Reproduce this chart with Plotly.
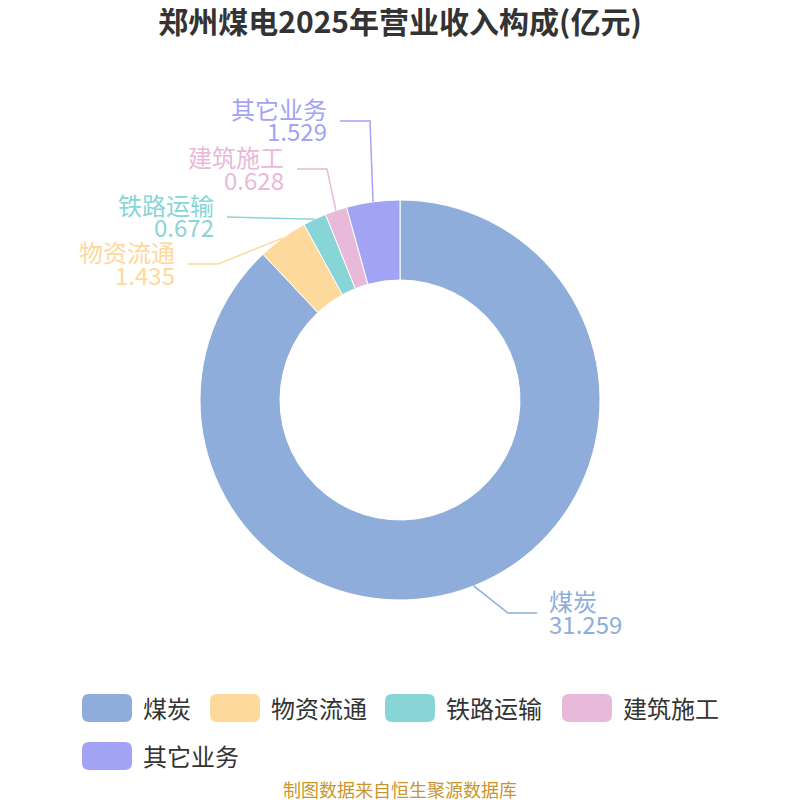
import math
import plotly.graph_objects as go

# ---- data ----
categories = ["煤炭", "物资流通", "铁路运输", "建筑施工", "其它业务"]
values = [31.259, 1.435, 0.672, 0.628, 1.529]
value_labels = ["31.259", "1.435", "0.672", "0.628", "1.529"]

# ---- styles ----
colors = ["#8eaddb", "#fdd99b", "#88d5d8", "#e8b9d8", "#a3a3f5"]
OFF = 8            # page offset of the plot div (body margin)
W = H = 800 - OFF
CX, CY, R = 400, 400, 200
FONT = "Noto Sans CJK SC"

# label layout (screen pixel positions of the leader-line bend, end, and side)
label_layout = [
    dict(bend=(508, 613), end=(537, 613), side="right"),
    dict(bend=(218, 264), end=(188, 264), side="left"),
    dict(bend=(227, 217), end=(227, 217), side="left"),
    dict(bend=(327, 169), end=(297, 169), side="left"),
    dict(bend=(370, 121), end=(340, 121), side="left"),
]


def px(x):
    return (x - OFF) / W


def py(y):
    return 1 - (y - OFF) / H


fig = go.Figure()
fig.add_trace(go.Pie(
    labels=categories,
    values=values,
    hole=0.6,
    sort=False,
    direction="clockwise",
    rotation=0,
    marker=dict(colors=colors, line=dict(color="white", width=1)),
    textinfo="none",
    hoverinfo="label+value",
    domain=dict(x=[px(CX - R), px(CX + R)], y=[py(CY + R), py(CY - R)]),
    showlegend=False,
))

shapes = []
annotations = []

total = sum(values)
cum = 0.0
for i, (cat, v) in enumerate(zip(categories, values)):
    mid = (cum + v / 2) / total * 2 * math.pi
    cum += v
    sx = CX + R * math.sin(mid)
    sy = CY - R * math.cos(mid)
    lay = label_layout[i]
    bx, by = lay["bend"]
    ex, ey = lay["end"]
    path = f"M {px(sx)} {py(sy)} L {px(bx)} {py(by)} L {px(ex)} {py(ey)}"
    shapes.append(dict(type="path", xref="paper", yref="paper", path=path,
                       line=dict(color=colors[i], width=1.5)))
    if lay["side"] == "right":
        tx, anchor = ex + 10, "left"
    else:
        tx, anchor = ex - 11, "right"
    annotations.append(dict(x=px(tx), y=py(ey - 13), xref="paper", yref="paper",
                            text=cat, showarrow=False, xanchor=anchor, yanchor="middle",
                            font=dict(family=FONT, size=24, color=colors[i])))
    annotations.append(dict(x=px(tx), y=py(ey + 10), xref="paper", yref="paper",
                            text=value_labels[i], showarrow=False, xanchor=anchor, yanchor="middle",
                            font=dict(family=FONT, size=24, color=colors[i])))

# ---- custom legend ----
legend_pos = [(82, 694), (210, 694), (385, 694), (562, 694), (82, 742)]
for i, cat in enumerate(categories):
    x0, y0 = legend_pos[i]
    x1, y1 = x0 + 50, y0 + 28
    r = 7
    path = (f"M {px(x0 + r)} {py(y0)} L {px(x1 - r)} {py(y0)} "
            f"Q {px(x1)} {py(y0)} {px(x1)} {py(y0 + r)} L {px(x1)} {py(y1 - r)} "
            f"Q {px(x1)} {py(y1)} {px(x1 - r)} {py(y1)} L {px(x0 + r)} {py(y1)} "
            f"Q {px(x0)} {py(y1)} {px(x0)} {py(y1 - r)} L {px(x0)} {py(y0 + r)} "
            f"Q {px(x0)} {py(y0)} {px(x0 + r)} {py(y0)} Z")
    shapes.append(dict(type="path", xref="paper", yref="paper", path=path,
                       fillcolor=colors[i], line=dict(width=0)))
    annotations.append(dict(x=px(x1 + 9), y=py((y0 + y1) / 2 - 1), xref="paper", yref="paper",
                            text=cat, showarrow=False, xanchor="left", yanchor="middle",
                            font=dict(family=FONT, size=24, color="#333333")))

# source note
annotations.append(dict(x=px(400), y=py(789), xref="paper", yref="paper",
                        text="制图数据来自恒生聚源数据库", showarrow=False,
                        xanchor="center", yanchor="middle",
                        font=dict(family=FONT, size=18, color="#c9962e")))

fig.update_layout(
    width=W, height=H,
    margin=dict(l=0, r=0, t=0, b=0),
    paper_bgcolor="white",
    plot_bgcolor="white",
    title=dict(text="<b>郑州煤电2025年营业收入构成(亿元)</b>", x=px(400), xanchor="center",
               y=py(22), yanchor="middle",
               font=dict(family=FONT, size=30, color="#333333")),
    shapes=shapes,
    annotations=annotations,
    showlegend=False,
)

fig.write_html("out.html")
